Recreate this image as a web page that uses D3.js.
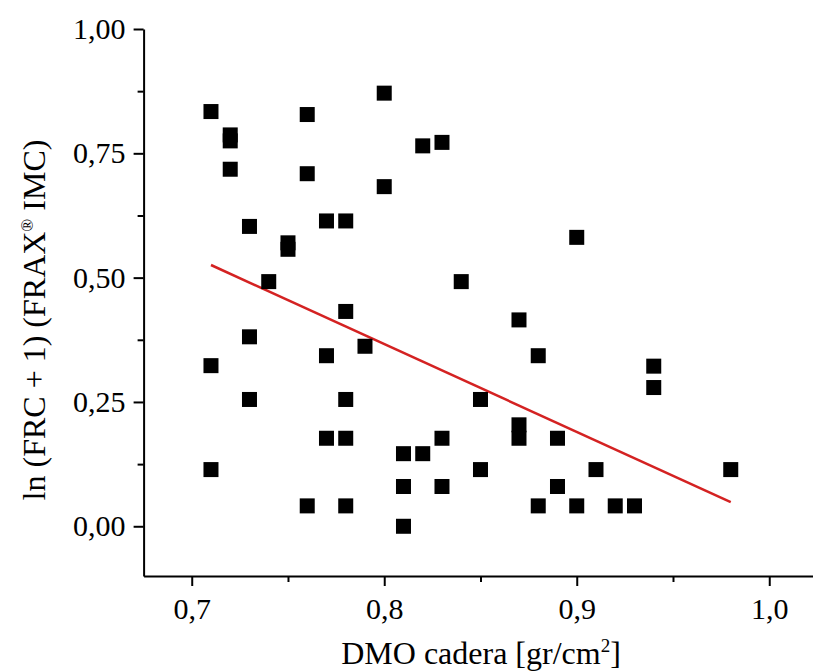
<!DOCTYPE html>
<html>
<head>
<meta charset="utf-8">
<script src="https://cdn.jsdelivr.net/npm/d3@7"></script>
<style>
  body { margin: 0; background: #fff; }
  text { font-family: "Liberation Serif", "Times New Roman", serif; fill: #000; }
</style>
</head>
<body>
<script>
// DMO cadera (x) vs ln(FRC+1) (y)
var dmoValues = [0.71, 0.72, 0.72, 0.72, 0.76, 0.76, 0.80, 0.80, 0.82, 0.83,
                 0.73, 0.77, 0.78, 0.75, 0.75, 0.74, 0.84, 0.90,
                 0.78, 0.73, 0.79, 0.77, 0.71, 0.73, 0.78, 0.77, 0.78, 0.71, 0.76, 0.78,
                 0.87, 0.88, 0.85, 0.87, 0.87, 0.89, 0.83, 0.81, 0.82, 0.85,
                 0.81, 0.83, 0.89, 0.88, 0.90, 0.81, 0.91,
                 0.94, 0.94, 0.92, 0.93, 0.98];
var frcValues = [0.834, 0.787, 0.775, 0.718, 0.828, 0.709, 0.871, 0.683, 0.765, 0.772,
                 0.603, 0.614, 0.614, 0.570, 0.557, 0.492, 0.492, 0.581,
                 0.432, 0.381, 0.362, 0.343, 0.323, 0.255, 0.255, 0.177, 0.177, 0.114, 0.041, 0.041,
                 0.415, 0.343, 0.255, 0.204, 0.177, 0.177, 0.177, 0.146, 0.146, 0.114,
                 0.080, 0.080, 0.080, 0.041, 0.041, 0.000, 0.114,
                 0.322, 0.279, 0.041, 0.041, 0.114];

// linear fit
var fitIntercept = 1.780;
var fitSlope = -1.767;
var fitRange = [0.71, 0.98];

var xMajor = [0.7, 0.8, 0.9, 1.0];
var xMinor = [0.75, 0.85, 0.95];
var yMajor = [0.0, 0.25, 0.5, 0.75, 1.0];
var yMinor = [0.125, 0.375, 0.625, 0.875];

var width = 813, height = 671;

var svg = d3.select("body").append("svg")
            .attr("width", width)
            .attr("height", height);

var x = d3.scaleLinear().domain([0.675, 1.05]).range([143.6, 865.5]);
var y = d3.scaleLinear().domain([-0.1, 1.0]).range([576, 29]);

var es = d3.formatLocale({decimal: ",", thousands: ".", grouping: [3], currency: ["", ""]});

// minor ticks first
svg.append("g")
   .attr("transform", "translate(0,576)")
   .call(d3.axisBottom(x).tickValues(xMinor).tickSize(6).tickFormat(""))
   .call(function (g) { g.select(".domain").remove(); });
svg.append("g")
   .attr("transform", "translate(143.6,0)")
   .call(d3.axisLeft(y).tickValues(yMinor).tickSize(6).tickFormat(""))
   .call(function (g) { g.select(".domain").remove(); });

var xAxis = svg.append("g")
   .attr("transform", "translate(0,576)")
   .call(d3.axisBottom(x).tickValues(xMajor).tickSize(10).tickSizeOuter(0).tickPadding(12).tickFormat(es.format(".1f")));

var yAxis = svg.append("g")
   .attr("transform", "translate(143.6,0)")
   .call(d3.axisLeft(y).tickValues(yMajor).tickSize(10).tickSizeOuter(0).tickPadding(8).tickFormat(es.format(".2f")));

svg.selectAll(".tick line, .domain").attr("stroke", "#000").attr("stroke-width", 2);
svg.selectAll(".tick text").style("font-family", "Liberation Serif").style("font-size", "30px").attr("fill", "#000");

// fit line
svg.append("line")
   .attr("x1", x(fitRange[0])).attr("y1", y(fitIntercept + fitSlope * fitRange[0]))
   .attr("x2", x(fitRange[1])).attr("y2", y(fitIntercept + fitSlope * fitRange[1]))
   .attr("stroke", "#d42222")
   .attr("stroke-width", 2.5);

// points
var s = 15;
svg.selectAll("rect.pt")
   .data(dmoValues)
   .enter()
   .append("rect")
   .attr("class", "pt")
   .attr("x", function (d) { return x(d) - s / 2; })
   .attr("y", function (d, i) { return y(frcValues[i]) - s / 2; })
   .attr("width", s)
   .attr("height", s)
   .style("fill", "#000");

// axis titles
var xt = svg.append("text")
   .attr("x", 481).attr("y", 664)
   .attr("text-anchor", "middle")
   .style("font-size", "32px");
xt.append("tspan").text("DMO cadera [gr/cm");
xt.append("tspan").attr("dy", -12).style("font-size", "19px").text("2");
xt.append("tspan").attr("dy", 12).text("]");

var yt = svg.append("text")
   .attr("transform", "translate(45,320) rotate(-90)")
   .attr("text-anchor", "middle")
   .style("font-size", "32px");
yt.append("tspan").text("ln (FRC + 1) (FRAX");
yt.append("tspan").attr("dy", -12).style("font-size", "17px").text("®");
yt.append("tspan").attr("dy", 12).text(" IMC)");
</script>
</body>
</html>
